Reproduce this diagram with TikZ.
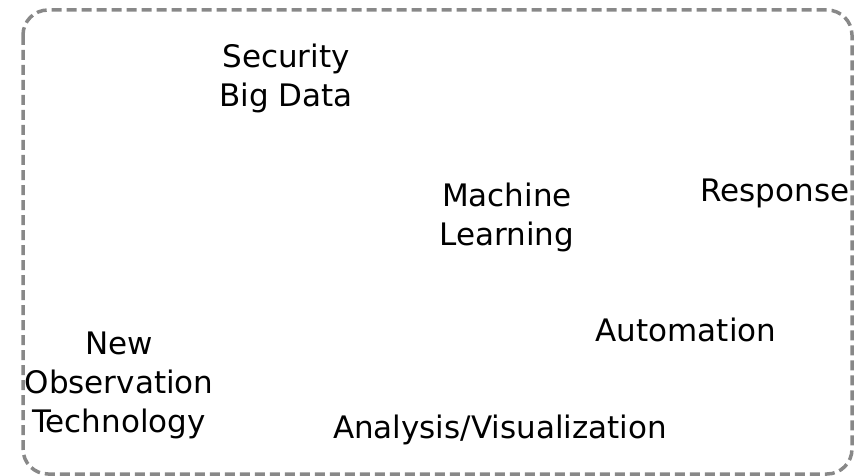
\documentclass[tikz,border=0pt]{standalone}
\usepackage{fontspec}
\setmainfont{DejaVu Sans}
\usepackage{xcolor}
\definecolor{framegray}{RGB}{136,136,136}
\usetikzlibrary{positioning}
\tikzset{
  topic/.style={font=\fontsize{31}{39}\selectfont, align=center, inner sep=0pt, text=black},
  frame/.style={draw=framegray, line width=3.5pt, dash pattern=on 10pt off 5pt,
                rounded corners=25pt},
}
\begin{document}
\begin{tikzpicture}[x=1pt, y=-1pt]
\useasboundingbox (0,0) rectangle (854,476);

% dashed frame
\draw[frame] (23,10) rectangle (852,474);

% topics
\node[topic] (sec) at (286,78) {Security\\Big Data};
\node[topic] (ml) at (507,217) {Machine\\Learning};
\node[topic] (resp) at (775,193) {Response};
\node[topic] (auto) at (686,330) {Automation};
\node[topic] (obs) at (119,385) {New\\Observation\\Technology};
\node[topic] (vis) at (500,430) {Analysis/Visualization};

\end{tikzpicture}
\end{document}
